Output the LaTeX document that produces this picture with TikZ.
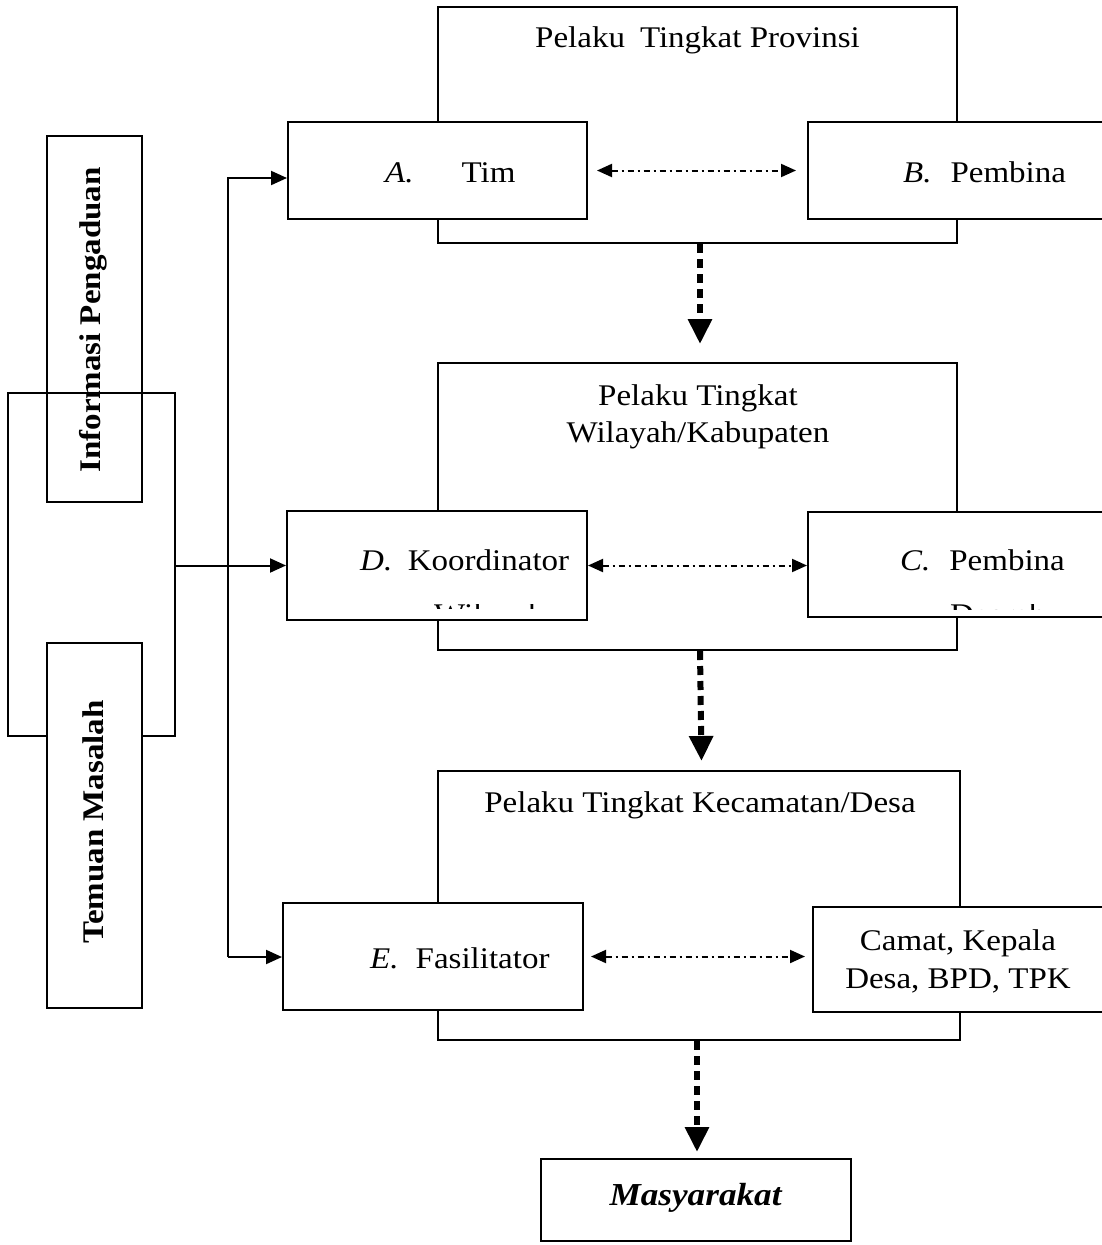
\documentclass[tikz,border=0pt]{standalone}
\usepackage{fontspec}
\setmainfont{Liberation Serif}[FakeStretch=1.1]
\usetikzlibrary{arrows.meta}
\newcommand\itemlab[3]{\textit{#1}\hspace{#2}#3}
\begin{document}
\begin{tikzpicture}[x=1pt,y=-1pt,
  box/.style={draw, line width=2pt, fill=white, inner sep=0pt},
  openbox/.style={draw, line width=2pt, inner sep=0pt},
  txt/.style={font=\fontsize{30}{37}\selectfont, inner sep=0pt},
  sidetxt/.style={font=\fontsize{30}{35}\selectfont\bfseries, inner sep=0pt, rotate=90},
  feed/.style={line width=2pt, -{Triangle[width=14pt,length=16pt]}},
  pair/.style={line width=2pt, dash pattern=on 6pt off 4pt on 2pt off 4pt,
    {Triangle[width=13pt,length=15pt]}-{Triangle[width=13pt,length=15pt]}},
  flow/.style={line width=6pt, dash pattern=on 9pt off 6pt,
    -{Triangle[width=23pt,length=25pt]}}]
\useasboundingbox (0,0) rectangle (1101,1245);

% provincial level
\node[box, minimum width=519pt, minimum height=236pt] (prov) at (697.5,125) {};
\node[box, minimum width=299pt, minimum height=97pt] (tim) at (437.5,170.5) {};
\node[box, minimum width=322pt, minimum height=97pt] (pemB) at (969,170.5) {};
\node[txt, anchor=base] (provT) at (697.5,47) {Pelaku\enspace Tingkat Provinsi};
\node[txt, anchor=base west] (timT) at (385,182) {\itemlab{A.}{1.6em}{Tim}};
\node[txt, anchor=base west] (pemBT) at (903,182) {\itemlab{B.}{0.63em}{Pembina}};

% regency level
\node[box, minimum width=519pt, minimum height=287pt] (wil) at (697.5,506.5) {};
\node[box, minimum width=300pt, minimum height=109pt] (koord) at (437,565.5) {};
\node[box, minimum width=322pt, minimum height=105pt] (pemC) at (969,564.5) {};
\node[txt, anchor=base] (wilT1) at (698,405) {Pelaku Tingkat};
\node[txt, anchor=base] (wilT2) at (698,442) {Wilayah/Kabupaten};
\node[txt, anchor=base west] (koordT) at (360,570) {\itemlab{D.}{0.52em}{Koordinator}};
\node[txt, anchor=base west] (pemCT) at (900,570) {\itemlab{C.}{0.63em}{Pembina}};
\begin{scope}
  \clip (420,604) rectangle (560,608.5);
  \node[txt, anchor=base west] (koordT2) at (434,624) {Wilayah};
\end{scope}
\begin{scope}
  \clip (940,604) rectangle (1080,609);
  \node[txt, anchor=base west] (pemCT2) at (950,624) {Daerah};
\end{scope}

% district / village level
\node[box, minimum width=522pt, minimum height=269pt] (kec) at (699,905.5) {};
\node[box, minimum width=300pt, minimum height=107pt] (fas) at (433,956.5) {};
\node[box, minimum width=317pt, minimum height=105pt] (camat) at (971.5,959.5) {};
\node[txt, anchor=base] (kecT) at (700,812) {Pelaku Tingkat Kecamatan/Desa};
\node[txt, anchor=base west] (fasT) at (370,968) {\itemlab{E.}{0.57em}{Fasilitator}};
\node[txt, anchor=base] (camatT1) at (958,950) {Camat, Kepala};
\node[txt, anchor=base] (camatT2) at (958,988) {Desa, BPD, TPK};

% community
\node[box, minimum width=310pt, minimum height=82pt] (masy) at (696,1200) {};
\node[txt, anchor=base, font=\fontsize{32}{37}\selectfont] (masyT) at (696,1205) {\textbf{\textit{Masyarakat}}};

% sources on the left
\node[box, minimum width=95pt, minimum height=366pt] (info) at (94.5,319) {};
\node[sidetxt] (infoT) at (93,320) {Informasi Pengaduan};
\node[openbox, minimum width=167pt, minimum height=343pt] (src) at (91.5,564.5) {};
\node[box, minimum width=95pt, minimum height=365pt] (temuan) at (94.5,825.5) {};
\node[sidetxt] (temT) at (93,822) {Temuan Masalah};

% feeds from the sources
\coordinate (spTop) at (228,178);
\coordinate (spBot) at (228,957);
\draw[feed] (src.east |- koord.west) -- (koord.west);
\draw[feed] (spBot) -- (spTop) -- (spTop -| tim.west);
\draw[feed] (spBot) -- (spBot -| fas.west);

% links within each level
\draw[pair] ([xshift=9pt]tim.east) -- ([xshift=-11pt]pemB.west);
\draw[pair] (koord.east) -- (koord.east -| pemC.west);
\draw[pair] ([xshift=7pt]fas.east) -- ([xshift=-7pt]fas.east -| camat.west);

% flow down the levels
\draw[flow] ([xshift=2.5pt]prov.south) -- ([xshift=2.5pt,yshift=18pt]wil.north);
\draw[flow] ([xshift=2.5pt]wil.south) -- ([xshift=2.5pt,yshift=9pt]kec.north);
\draw[flow] ([xshift=-2pt]kec.south) -- ([xshift=1pt,yshift=6pt]masy.north);
\end{tikzpicture}
\end{document}
